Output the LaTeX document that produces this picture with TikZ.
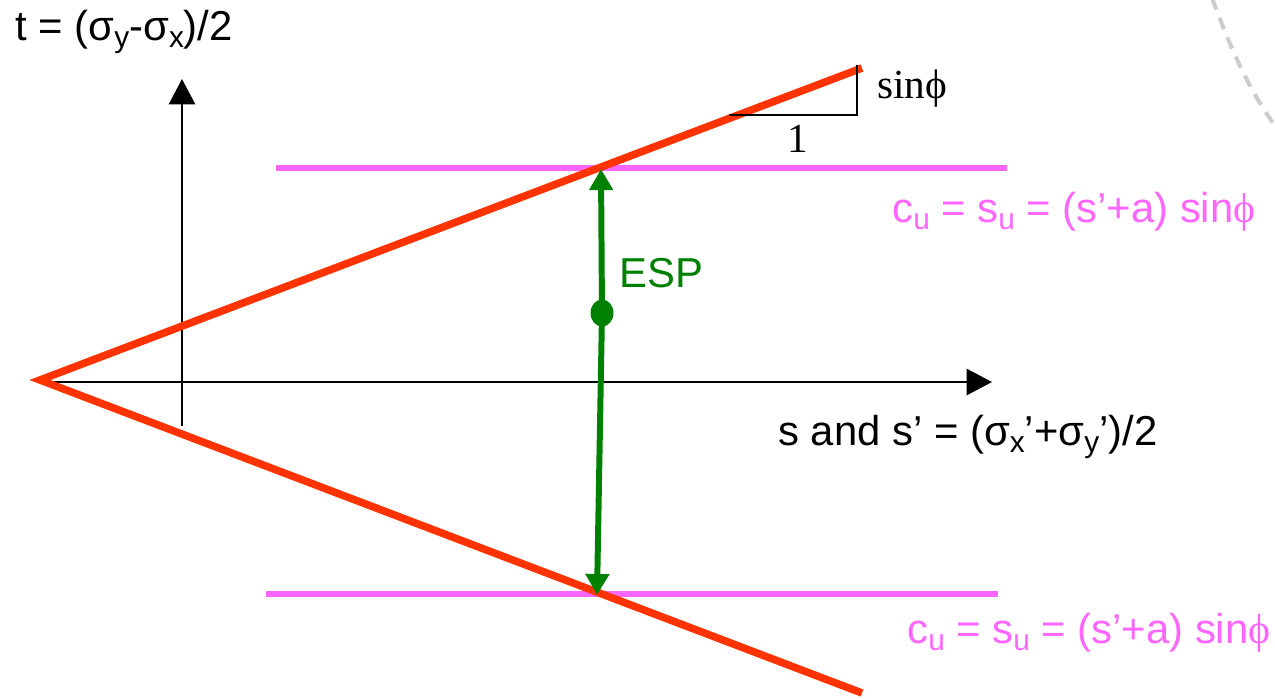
\documentclass[tikz,border=0pt]{standalone}
\usepackage{fontspec}
\setmainfont{Liberation Sans}
\newfontfamily\serifface{Liberation Serif}
\usetikzlibrary{arrows.meta,shapes.geometric}
\definecolor{redline}{HTML}{FF3300}
\definecolor{pinkline}{HTML}{FF66FF}
\definecolor{espgreen}{HTML}{008000}
\newcommand\lowsub[1]{\raisebox{-0.35ex}{\fontsize{17}{18}\selectfont #1}}
\newcommand\phichar{{\serifface ϕ}}
\begin{document}
\begin{tikzpicture}[x=0.02cm,y=-0.02cm,
  lbl/.style={inner sep=0pt, font=\fontsize{23.8}{28}\selectfont},
  serlbl/.style={inner sep=0pt, font=\serifface\fontsize{23.5}{27}\selectfont},
  axisline/.style={line width=1.2pt, black, -{Triangle[length=14.5pt,width=15pt]}},
  envelope/.style={line width=4.3pt, redline, line cap=butt},
  capline/.style={line width=3.4pt, pinkline},
  esparrow/.style={line width=3.4pt, espgreen, -{Triangle[length=12pt,width=13pt]}},
  slopeline/.style={line width=1.6pt, black},
  dotstyle/.style={ellipse, fill=espgreen, minimum width=23*0.02cm, minimum height=27*0.02cm, inner sep=0pt}
]
\useasboundingbox (0,0) rectangle (1275,698);

% coordinates
\coordinate (O) at (40,380);
\coordinate (upEnd) at (862,68);
\coordinate (loEnd) at (862,693);
\coordinate (hStart) at (40,382);
\coordinate (hEnd) at (992,382);
\coordinate (vStart) at (182,426);
\coordinate (vEnd) at (182,79);
\coordinate (pu1) at (276,168);
\coordinate (pu2) at (1007,168);
\coordinate (pl1) at (266,594);
\coordinate (pl2) at (998,594);
\coordinate (topHit) at (601,169);
\coordinate (botHit) at (597,595);
\coordinate (triL) at (729,115);
\coordinate (triC) at (857,115);
\coordinate (triT) at (857,65);

% dashed arc in corner
\draw[gray!40, line width=2.3pt, dash pattern=on 7pt off 5pt]
  (1212,-2) .. controls (1232,52) and (1250,92) .. (1278,130);

% axes
\draw[axisline] (hStart) -- (hEnd);
\draw[axisline] (vStart) -- (vEnd);

% pink lines
\draw[capline] (pu1) -- (pu2);
\draw[capline] (pl1) -- (pl2);

% envelope
\draw[envelope, line join=miter] (upEnd) -- (O) -- (loEnd);

% slope triangle
\draw[slopeline] (triL) -- (triC) -- (triT);

% ESP
\node[dotstyle] (dot) at (602,313) {};
\draw[esparrow] (dot.center) -- (topHit);
\draw[esparrow] (dot.center) -- (botHit);

% labels
\node[lbl, anchor=base west] (tlab) at (15,40) {t = (σ\lowsub{y}-σ\lowsub{x})/2};
\node[lbl, anchor=base west] (slab) at (778,445) {s and s’ = (σ\lowsub{x}’+σ\lowsub{y}’)/2};
\node[lbl, anchor=base west, text=espgreen] (esp) at (619,287) {ESP};
\node[serlbl, anchor=base west] (sinlab) at (877,98) {sin\phichar};
\node[serlbl, anchor=base] (onelab) at (798,152) {1};
\node[lbl, anchor=base west, text=pinkline] (cu1) at (892,222) {c\lowsub{u} = s\lowsub{u} = (s’+a) sin\phichar};
\node[lbl, anchor=base west, text=pinkline] (cu2) at (907,643) {c\lowsub{u} = s\lowsub{u} = (s’+a) sin\phichar};
\end{tikzpicture}
\end{document}
